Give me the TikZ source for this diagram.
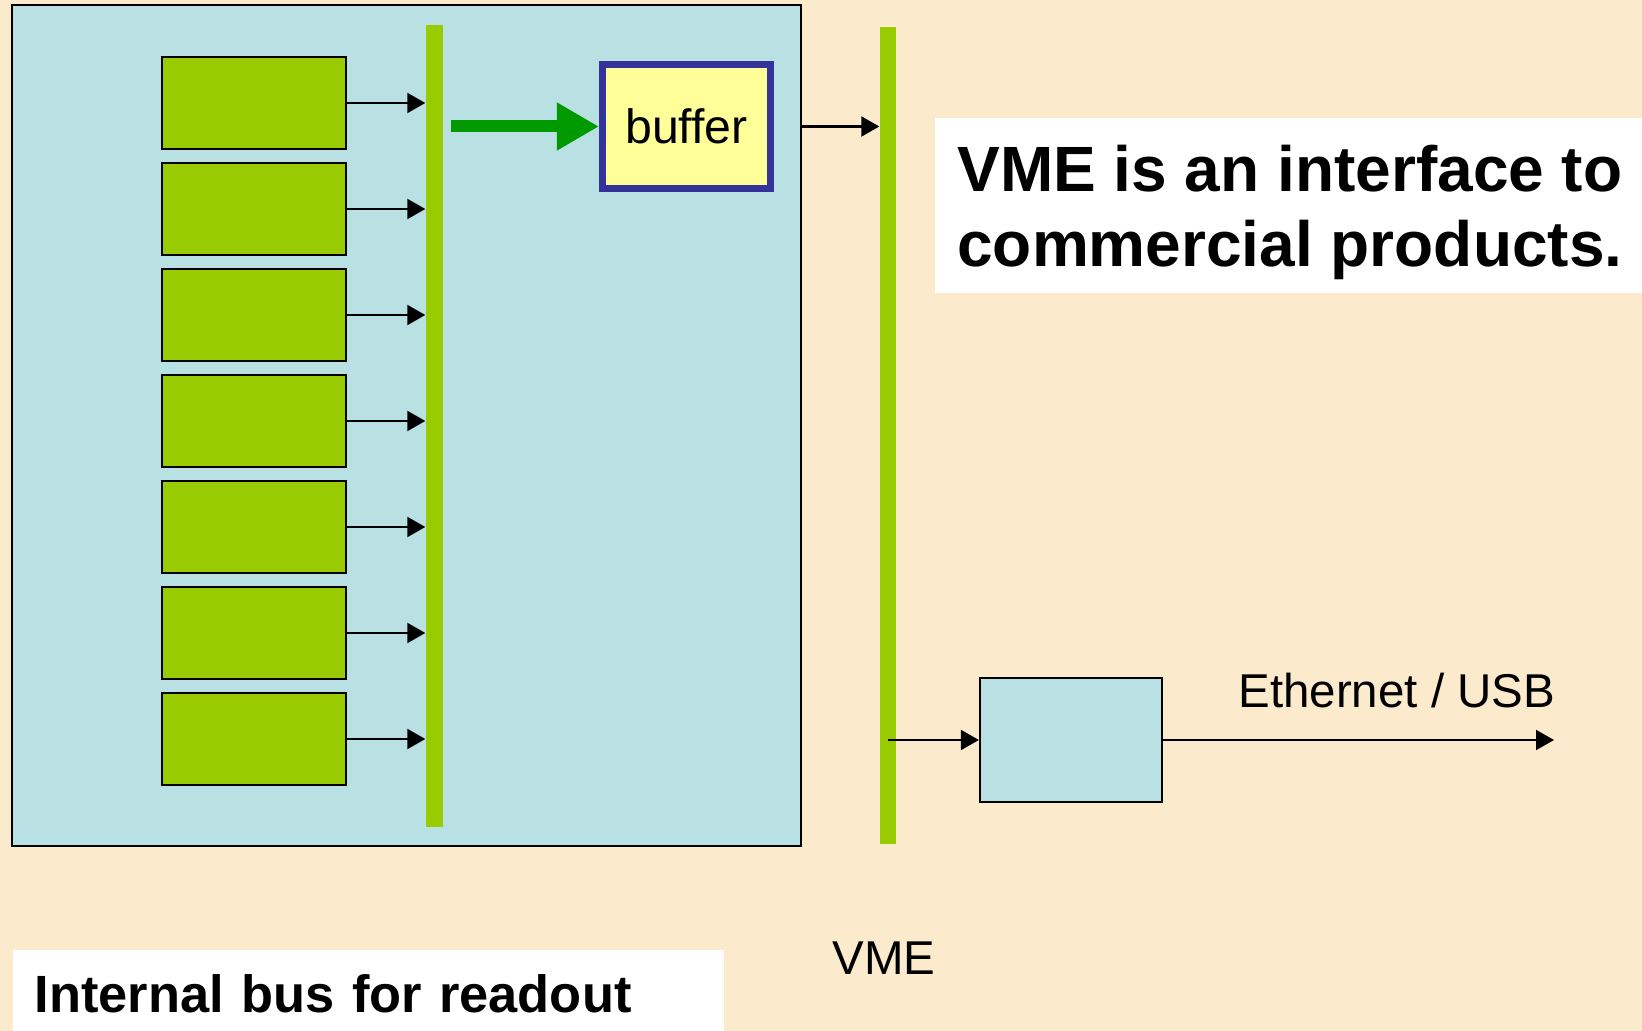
\documentclass[tikz,border=0pt]{standalone}
\usepackage{fontspec}
\setmainfont{Liberation Sans}
\usetikzlibrary{arrows.meta,positioning}
\definecolor{paper}{RGB}{251,235,204}
\definecolor{boardcyan}{RGB}{185,224,227}
\definecolor{busgreen}{RGB}{153,204,0}
\definecolor{flowgreen}{RGB}{0,153,0}
\definecolor{bufblue}{RGB}{51,51,153}
\definecolor{bufyellow}{RGB}{255,255,153}

\begin{document}
\begin{tikzpicture}[x=0.01cm, y=-0.01cm,
    every node/.style={font=\fontsize{13.5}{16}\selectfont},
    board/.style={draw, line width=0.6pt, fill=boardcyan, inner sep=0},
    module/.style={draw, line width=0.6pt, fill=busgreen, minimum width=1.84cm, minimum height=0.92cm, inner sep=0},
    bus/.style={fill=busgreen, inner sep=0},
    conn/.style={-{Triangle[length=0.18cm,width=0.2cm]}, line width=0.6pt},
    flow/.style={-{Triangle[length=0.42cm,width=0.45cm]}, line width=0.12cm, flowgreen},
    note/.style={fill=white, inner sep=0, align=left}]
  % paper
  \fill[paper] (0,0) rectangle (1642,1031);
  \useasboundingbox (0,0) rectangle (1642,1031);
  % readout board with internal bus
  \node[board, minimum width=7.89cm, minimum height=8.41cm] (board) at (406.5,425.5) {};
  \node[bus, minimum width=0.17cm, minimum height=8.02cm] (inbus) at (434.5,426) {};
  \foreach \i in {1,...,7}{
    \node[module] (m\i) at (254,{103+106*(\i-1)}) {};
    \draw[conn] (m\i.east) -- (m\i.east -| inbus.west);
  }
  \node[draw=bufblue, line width=0.07cm, fill=bufyellow, minimum width=1.68cm, minimum height=1.24cm, font=\fontsize{13.7}{16}\selectfont] (buffer) at (686.5,126.5) {buffer};
  \draw[flow, shorten <=0.07cm] (inbus.east |- buffer.west) -- (buffer.west);
  % VME crate bus
  \node[bus, minimum width=0.16cm, minimum height=8.17cm] (vmebus) at (888,435.5) {};
  \draw[conn] (buffer.east -| board.east) -- (buffer.east -| vmebus.west);
  \node[board, minimum width=1.82cm, minimum height=1.24cm] (iface) at (1071,740) {};
  \draw[conn] (vmebus.center |- iface.west) -- (iface.west);
  \coordinate (net) at (1554,740);
  \draw[conn] (iface.east) -- (net);
  \node[anchor=base west] (netlbl) at (1226,708) {Ethernet / USB};
  \node[anchor=base west] (vmelbl) at (820,975) {VME};
  % notes
  \node[note, anchor=north west, minimum width=7.1cm, minimum height=1.75cm, font=\bfseries\fontsize{18.2}{21.3}\selectfont] (vmenote) at (934,117) {\rule{0pt}{0.6cm}VME is an interface to\\commercial products.};
  \node[note, anchor=north west, minimum width=7.11cm, minimum height=0.88cm, text width=6.67cm, font=\bfseries\fontsize{14.9}{17}\selectfont] (buslbl) at (12,949) {Internal bus for readout};
\end{tikzpicture}
\end{document}
